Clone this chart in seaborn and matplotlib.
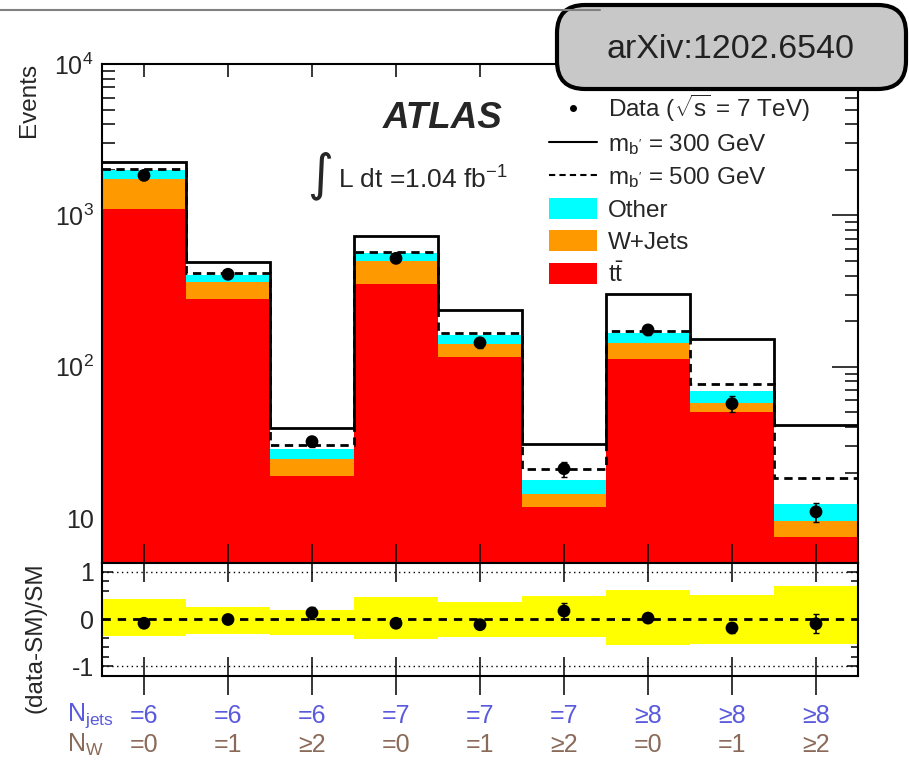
import numpy as np
import pandas as pd
import matplotlib
matplotlib.use("Agg")
import matplotlib.pyplot as plt
import matplotlib.transforms as mtransforms
from matplotlib.patches import FancyBboxPatch, Patch
from matplotlib.lines import Line2D
from matplotlib.ticker import FixedLocator, NullFormatter, MultipleLocator
import seaborn as sns

# ---- data -------------------------------------------------------------
njets_labels = ["=6", "=6", "=6", "=7", "=7", "=7", "≥8", "≥8", "≥8"]
nw_labels = ["=0", "=1", "≥2", "=0", "=1", "≥2", "=0", "=1", "≥2"]

ttbar = [1095, 279, 19.1, 351, 116, 11.9, 113, 50.4, 7.55]
wjets = [634, 82, 5.6, 146, 26, 2.6, 31, 7.4, 2.05]
other = [271, 44, 4.1, 63, 21, 3.4, 24, 11.7, 2.7]

sig_300 = [2240, 490, 39.6, 727, 238, 31.0, 303, 153, 41.4]
sig_500 = [2014, 414, 30.5, 570, 168, 21.2, 173, 77.3, 18.5]

data = [1837, 408, 32, 520, 144, 21.2, 175, 57, 11.0]
data_err = [40, 19, 2.3, 22, 11, 2.4, 13, 7, 1.6]

ratio = [-0.09, -0.01, 0.13, -0.09, -0.12, 0.17, 0.02, -0.19, -0.10]
ratio_err = [0.03, 0.05, 0.12, 0.04, 0.07, 0.17, 0.08, 0.10, 0.20]
band_hi = [0.43, 0.26, 0.19, 0.47, 0.36, 0.49, 0.62, 0.51, 0.70]
band_lo = [-0.36, -0.32, -0.34, -0.43, -0.38, -0.38, -0.55, -0.53, -0.53]

# ---- style ------------------------------------------------------------
sns.set_theme(style="white")
plt.rcParams["font.family"] = ["Liberation Sans", "DejaVu Sans"]
plt.rcParams["mathtext.fontset"] = "custom"
plt.rcParams["mathtext.rm"] = "Liberation Sans"
plt.rcParams["mathtext.it"] = "Liberation Sans:italic"
plt.rcParams["mathtext.bf"] = "Liberation Sans:bold"
plt.rcParams["mathtext.sf"] = "Liberation Sans"
plt.rcParams["axes.edgecolor"] = "black"
plt.rcParams["axes.linewidth"] = 1.5

colors = {"Other": "#00ffff", "W+Jets": "#ff9900", "tt": "#ff0000"}

W, H = 909, 760
fig = plt.figure(figsize=(W / 100, H / 100), dpi=100)


def frame(l, t, r, b):
    return [l / W, 1 - b / H, (r - l) / W, (b - t) / H]


ax = fig.add_axes(frame(102, 64, 858, 563))
rax = fig.add_axes(frame(102, 563, 858, 676))

x = np.arange(len(ttbar))
edges = np.arange(len(ttbar) + 1) - 0.5

# ---- main panel: stacked backgrounds -----------------------------------
ax.set_yscale("log")
stack = pd.DataFrame({
    "bin": np.tile(x, 3),
    "events": other + wjets + ttbar,
    "process": ["Other"] * 9 + ["W+Jets"] * 9 + ["tt"] * 9,
})
sns.histplot(data=stack, x="bin", weights="events", hue="process",
             hue_order=["Other", "W+Jets", "tt"], palette=colors,
             multiple="stack", discrete=True, shrink=1, alpha=1,
             linewidth=0, legend=False, ax=ax)

ax.stairs(sig_300, edges, color="black", lw=2, baseline=None, zorder=4)
ax.stairs(sig_500, edges, color="black", lw=2, baseline=None,
          linestyle=(0, (3, 2)), zorder=4)
ax.errorbar(x, data, yerr=data_err, fmt="none", ecolor="black",
            elinewidth=1.2, capsize=2, zorder=5)
sns.scatterplot(x=x, y=data, color="black", s=85, edgecolor="none",
                ax=ax, zorder=6, legend=False)

ax.set_xlim(-0.5, 8.5)
ax.set_ylim(5.05, 1e4)
ax.set_xlabel("")
ax.set_ylabel("")
ax.set_yticks([10, 100, 1000, 10000])
ax.set_yticklabels(["10", r"$\mathregular{10^{2}}$", r"$\mathregular{10^{3}}$",
                    r"$\mathregular{10^{4}}$"])
ax.yaxis.set_minor_locator(FixedLocator(
    [m * 10 ** d for d in range(0, 4) for m in range(2, 10)]))
ax.yaxis.set_minor_formatter(NullFormatter())
ax.set_xticks(x)
ax.set_xticklabels([])
ax.tick_params(axis="x", which="major", direction="in", length=9.5, width=1.1,
               top=True, bottom=True, color="black")
ax.tick_params(axis="y", which="major", direction="in", length=19, width=1.1,
               left=True, right=True, labelsize=18, pad=6, color="black")
ax.tick_params(axis="y", which="minor", direction="in", length=9.5, width=1.1,
               left=True, right=True, color="black")

# ---- ratio panel --------------------------------------------------------
rax.bar(x, np.array(band_hi) - np.array(band_lo), bottom=band_lo, width=1.0,
        color="#ffff00", linewidth=0, zorder=1)
rax.axhline(0, color="black", lw=2, linestyle=(0, (3, 2.5)), zorder=2)
rax.axhline(1, color="black", lw=1, linestyle=(0, (1, 2.5)), zorder=2)
rax.axhline(-1, color="black", lw=1, linestyle=(0, (1, 2.5)), zorder=2)
rax.errorbar(x, ratio, yerr=ratio_err, fmt="none", ecolor="black",
             elinewidth=1.2, capsize=2, zorder=5)
sns.scatterplot(x=x, y=ratio, color="black", s=85, edgecolor="none",
                ax=rax, zorder=6, legend=False)

rax.set_xlim(-0.5, 8.5)
rax.set_ylim(-1.21, 1.19)
rax.set_yticks([-1, 0, 1])
rax.set_yticklabels(["-1", "0", "1"])
rax.yaxis.set_minor_locator(MultipleLocator(0.2))
rax.set_xticks(x)
rax.set_xticklabels([])
rax.tick_params(axis="x", which="major", direction="inout", length=28,
                width=1.1, top=True, bottom=True, color="black")
rax.tick_params(axis="y", which="major", direction="in", length=8, width=1.1,
                left=True, right=True, labelsize=18, pad=6, color="black")
rax.tick_params(axis="y", which="minor", direction="in", length=5, width=1.1,
                left=True, right=True, color="black")

# ---- category labels below the ratio panel ------------------------------
blend = mtransforms.blended_transform_factory(rax.transData, fig.transFigure)
for xi, nj, nw in zip(x, njets_labels, nw_labels):
    rax.text(xi, 1 - 716 / H, nj, transform=blend, ha="center", va="center",
             fontsize=18, color="#5a5adc")
    rax.text(xi, 1 - 745 / H, nw, transform=blend, ha="center", va="center",
             fontsize=18, color="#8a6a58")

# ---- legend ---------------------------------------------------------------
handles = [
    Line2D([], [], marker="o", ls="none", color="black", ms=4),
    Line2D([], [], color="black", lw=1.5),
    Line2D([], [], color="black", lw=1.5, linestyle=(0, (3, 2))),
    Patch(facecolor=colors["Other"], edgecolor="none"),
    Patch(facecolor=colors["W+Jets"], edgecolor="none"),
    Patch(facecolor=colors["tt"], edgecolor="none"),
]
labels = [
    r"Data ($\sqrt{\mathregular{s}}$ = 7 TeV)",
    r"m$_{\mathregular{b'}}$ = 300 GeV",
    r"m$_{\mathregular{b'}}$ = 500 GeV",
    "Other",
    "W+Jets",
    r"t$\mathregular{\bar{t}}$",
]
fig.legend(handles, labels, loc="upper left",
           bbox_to_anchor=(549 / W, 1 - 93 / H), frameon=False, fontsize=17.5,
           borderpad=0, borderaxespad=0, handlelength=1.97, handleheight=0.95,
           handletextpad=0.45, labelspacing=0.33)

# ---- overlay: titles, labels, reference badge ---------------------------
deco = fig.add_axes([0, 0, 1, 1], zorder=10)
deco.set_xlim(0, W)
deco.set_ylim(H, 0)
deco.axis("off")
deco.patch.set_alpha(0)

deco.text(383, 118, "ATLAS", fontsize=26.5, fontweight="bold", style="italic",
          ha="left", va="center")
deco.text(320, 176, "∫", fontsize=36, family="DejaVu Sans", ha="center",
          va="center")
deco.text(338, 180, r"L dt =1.04 fb$^{\mathregular{-1}}$", fontsize=19,
          ha="left", va="center")

deco.text(29, 100, "Events", fontsize=17.5, rotation=90, ha="center",
          va="center")
deco.text(36, 638, "(data-SM)/SM", fontsize=17.5, rotation=90, ha="center",
          va="center")
deco.text(67, 716, r"N$_{\mathregular{jets}}$", fontsize=18, color="#5a5adc",
          ha="left", va="center")
deco.text(67, 745, r"N$_{\mathregular{W}}$", fontsize=18, color="#8a6a58",
          ha="left", va="center")

deco.plot([0, 600], [10, 10], color="#808080", lw=1.5)
badge = FancyBboxPatch((557, 5), 349, 84,
                       boxstyle="round,pad=0,rounding_size=28",
                       facecolor="#c8c8c8", edgecolor="black", lw=3)
deco.add_patch(badge)
deco.text(731, 50, "arXiv:1202.6540", fontsize=24.5, color="#222222",
          ha="center", va="center")

fig.savefig("out.png", dpi=100)
